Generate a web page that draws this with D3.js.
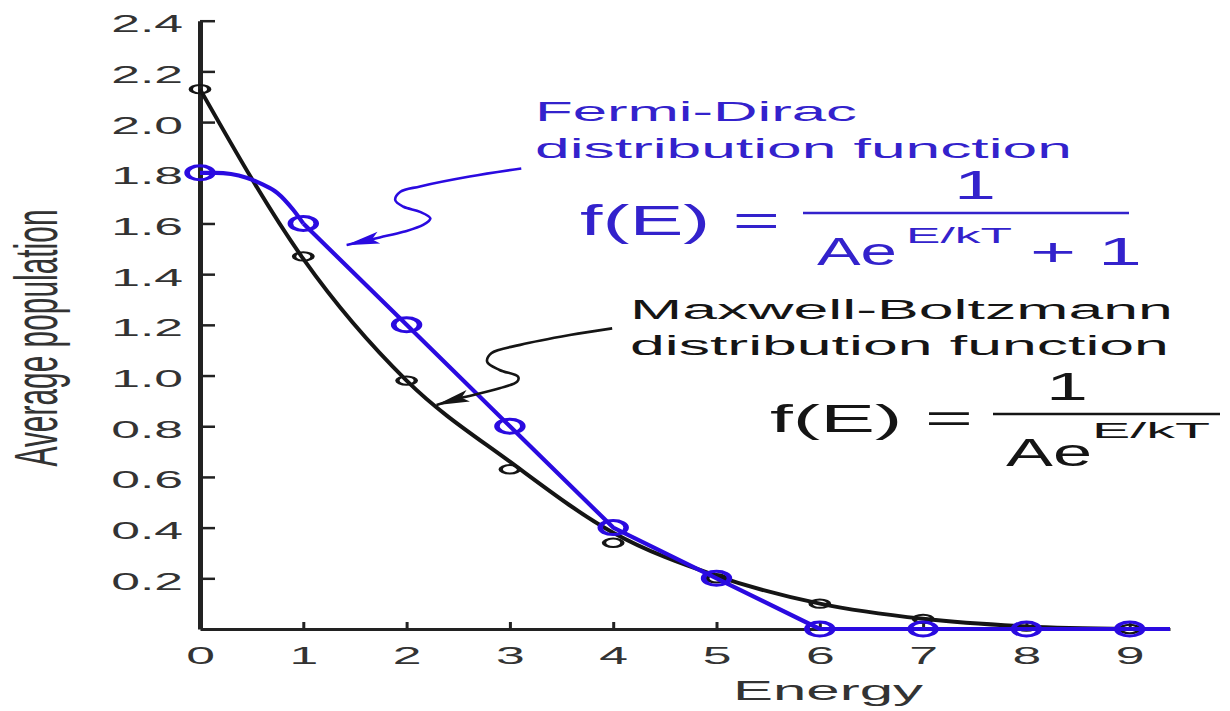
<!DOCTYPE html>
<html>
<head>
<meta charset="utf-8">
<script src="https://cdn.jsdelivr.net/npm/d3@7"></script>
<style>
body { margin: 0; background: #fff; }
svg { display: block; }
text { font-family: "Liberation Sans", Arial, Helvetica, sans-serif; }
</style>
</head>
<body>
<div id="chart"></div>
<script>
// values
const energy = [0, 1, 2, 3, 4, 5, 6, 7, 8, 9];
const fermiDirac = [1.80, 1.60, 1.20, 0.80, 0.40, 0.20, 0.00, 0.00, 0.00, 0.00];
const maxwellBoltzmann = [2.13, 1.47, 0.98, 0.63, 0.34, 0.20, 0.10, 0.04, 0.01, 0.00];

// the drawn curves (they do not go exactly through every marker)
const fdCurveE = [0, 0.15, 0.3, 0.45, 0.6, 0.75, 0.9, 1, 2, 3, 4, 5, 6, 9.39];
const fdCurveV = [1.80, 1.80, 1.795, 1.78, 1.755, 1.72, 1.655, 1.60, 1.20, 0.80, 0.40, 0.20, 0.00, 0.00];
const mbCurveE = [0, 1, 2, 3, 4, 5, 6, 7, 8, 9];
const mbCurveV = [2.13, 1.46, 0.98, 0.66, 0.38, 0.21, 0.10, 0.04, 0.01, 0.00];

const yTicks = [0.2, 0.4, 0.6, 0.8, 1.0, 1.2, 1.4, 1.6, 1.8, 2.0, 2.2, 2.4];

// squiggly arrows, in chart units
const fdArrowE = [3.11, 2.61, 2.13, 1.94, 1.89, 1.97, 2.13, 2.23, 2.16, 1.97, 1.74, 1.42];
const fdArrowV = [1.817, 1.785, 1.746, 1.725, 1.692, 1.666, 1.646, 1.620, 1.594, 1.567, 1.545, 1.515];
const mbArrowE = [3.99, 3.58, 3.10, 2.82, 2.78, 2.90, 3.08, 3.07, 2.90, 2.55, 2.29];
const mbArrowV = [1.186, 1.160, 1.121, 1.088, 1.054, 1.022, 0.995, 0.976, 0.950, 0.914, 0.884];

const width = 1230, height = 711;
const stretch = 2.2; // source picture is pulled wide, text and circles too
const blue = "#2a0ae0";
const blueText = "#3322cc";
const ink = "#151515";

var x = d3.scaleLinear().domain([0, 9.39]).range([200, 1170]);
var y = d3.scaleLinear().domain([0, 2.4]).range([629, 20.7]);

var svg = d3.select("#chart").append("svg")
	.attr("width", width)
	.attr("height", height);

// text stretched sideways to a wanted width
function label(parent, str, o) {
	const t = parent.append("text")
		.attr("font-size", o.size)
		.attr("fill", o.color || ink)
		.attr("text-anchor", o.anchor || "start")
		.text(str);
	const s = o.width ? o.width / t.node().getComputedTextLength() : stretch;
	t.attr("transform", `translate(${o.x},${o.y}) scale(${s},1)`);
	return t;
}

var defs = svg.append("defs");
[["headBlue", blue], ["headBlack", ink]].forEach(([id, c]) => {
	defs.append("marker")
		.attr("id", id)
		.attr("viewBox", "-34 -7 36 14")
		.attr("refX", 0).attr("refY", 0)
		.attr("markerWidth", 36).attr("markerHeight", 14)
		.attr("markerUnits", "userSpaceOnUse")
		.attr("orient", "auto")
	.append("path")
		.attr("d", "M1,0 L-33,-6 L-26,0 L-33,6 Z")
		.attr("fill", c);
});

// axes
var gy = svg.append("g")
	.attr("transform", `translate(${x(0)},0)`)
	.call(d3.axisLeft(y).tickValues(yTicks).tickFormat(d3.format(".1f"))
		.tickSizeInner(-15).tickSizeOuter(0).tickPadding(17));
gy.select(".domain").attr("stroke", "#222").attr("stroke-width", 5);
gy.selectAll(".tick line").attr("stroke", "#222").attr("stroke-width", 2.5);
gy.selectAll(".tick text")
	.attr("fill", "#333")
	.attr("font-size", 23.5)
	.attr("x", 0)
	.attr("dy", 11)
	.attr("transform", `translate(-17,0) scale(${stretch},1)`);

var gx = svg.append("g")
	.attr("transform", `translate(0,${y(0)})`)
	.call(d3.axisBottom(x).tickValues(energy).tickFormat(d3.format("d"))
		.tickSizeInner(-7).tickSizeOuter(0).tickPadding(18));
gx.select(".domain").attr("stroke", "#222").attr("stroke-width", 3);
gx.selectAll(".tick line").attr("stroke", "#222").attr("stroke-width", 3);
gx.selectAll(".tick text")
	.attr("fill", "#333")
	.attr("font-size", 23.5)
	.attr("dy", 17)
	.attr("transform", `scale(${stretch},1)`);

label(svg, "Energy", {x: 828, y: 700, size: 28, width: 190, anchor: "middle", color: "#333"});

svg.append("text")
	.attr("font-size", 28)
	.attr("fill", "#333")
	.attr("text-anchor", "middle")
	.attr("textLength", 257)
	.attr("lengthAdjust", "spacingAndGlyphs")
	.attr("transform", `translate(57,338) scale(${stretch},1) rotate(-90)`)
	.text("Average population");

// curves
var smooth = d3.line()
	.x(d => x(d[0]))
	.y(d => y(d[1]))
	.curve(d3.curveMonotoneX);

var straight = d3.line()
	.x(d => x(d[0]))
	.y(d => y(d[1]));

svg.append("path")
	.datum(d3.zip(mbCurveE, mbCurveV))
	.attr("d", smooth)
	.attr("fill", "none")
	.attr("stroke", ink)
	.attr("stroke-width", 4);

svg.append("g")
	.selectAll("circle")
	.data(energy)
	.join("circle")
		.attr("transform", (d, i) => `translate(${x(d)},${y(maxwellBoltzmann[i])}) scale(${stretch},1)`)
		.attr("r", 4.2)
		.attr("fill", "none")
		.attr("stroke", ink)
		.attr("stroke-width", 2);

// Fermi-Dirac line: rounded top up to E=1, straight pieces after
var fdPts = d3.zip(fdCurveE, fdCurveV);
svg.append("path")
	.datum(fdPts.filter(d => d[0] <= 1))
	.attr("d", smooth)
	.attr("fill", "none")
	.attr("stroke", blue)
	.attr("stroke-width", 4.2);
svg.append("path")
	.datum(fdPts.filter(d => d[0] >= 1))
	.attr("d", straight)
	.attr("fill", "none")
	.attr("stroke", blue)
	.attr("stroke-width", 4.2)
	.attr("stroke-linejoin", "round");

svg.append("g")
	.selectAll("circle")
	.data(energy)
	.join("circle")
		.attr("transform", (d, i) => `translate(${x(d)},${y(fermiDirac[i])}) scale(1.85,1)`)
		.attr("r", 7)
		.attr("fill", "none")
		.attr("stroke", blue)
		.attr("stroke-width", 3);

// arrows
var squiggle = d3.line()
	.x(d => x(d[0]))
	.y(d => y(d[1]))
	.curve(d3.curveCatmullRom);

svg.append("path")
	.datum(d3.zip(fdArrowE, fdArrowV))
	.attr("d", squiggle)
	.attr("fill", "none")
	.attr("stroke", blue)
	.attr("stroke-width", 2.6)
	.attr("marker-end", "url(#headBlue)");

svg.append("path")
	.datum(d3.zip(mbArrowE, mbArrowV))
	.attr("d", squiggle)
	.attr("fill", "none")
	.attr("stroke", ink)
	.attr("stroke-width", 2.6)
	.attr("marker-end", "url(#headBlack)");

// Fermi-Dirac note
var fd = svg.append("g");
label(fd, "Fermi-Dirac", {x: 535, y: 121, size: 28, width: 322, color: blueText});
label(fd, "distribution function", {x: 535, y: 158, size: 28, width: 537, color: blueText});
label(fd, "f(E) =", {x: 580, y: 235, size: 42, width: 200, color: blueText});
label(fd, "1", {x: 975, y: 199, size: 40, anchor: "middle", width: 42, color: blueText});
fd.append("line")
	.attr("x1", 803).attr("x2", 1129)
	.attr("y1", 213).attr("y2", 213)
	.attr("stroke", blueText).attr("stroke-width", 2.5);
label(fd, "Ae", {x: 817, y: 265, size: 39, width: 80, color: blueText});
label(fd, "E/kT", {x: 906, y: 243, size: 22, width: 106, color: blueText});
label(fd, "+ 1", {x: 1030, y: 265, size: 39, width: 112, color: blueText});

// Maxwell-Boltzmann note
var mb = svg.append("g");
label(mb, "Maxwell-Boltzmann", {x: 630, y: 319, size: 28, width: 543});
label(mb, "distribution function", {x: 630, y: 355, size: 28, width: 539});
label(mb, "f(E) =", {x: 770, y: 432, size: 38, width: 203});
label(mb, "1", {x: 1067, y: 400, size: 38, anchor: "middle", width: 42});
mb.append("line")
	.attr("x1", 993).attr("x2", 1220)
	.attr("y1", 414).attr("y2", 414)
	.attr("stroke", ink).attr("stroke-width", 2.5);
label(mb, "Ae", {x: 1006, y: 466, size: 38, width: 86});
label(mb, "E/kT", {x: 1092, y: 438, size: 22, width: 118});
</script>
</body>
</html>
